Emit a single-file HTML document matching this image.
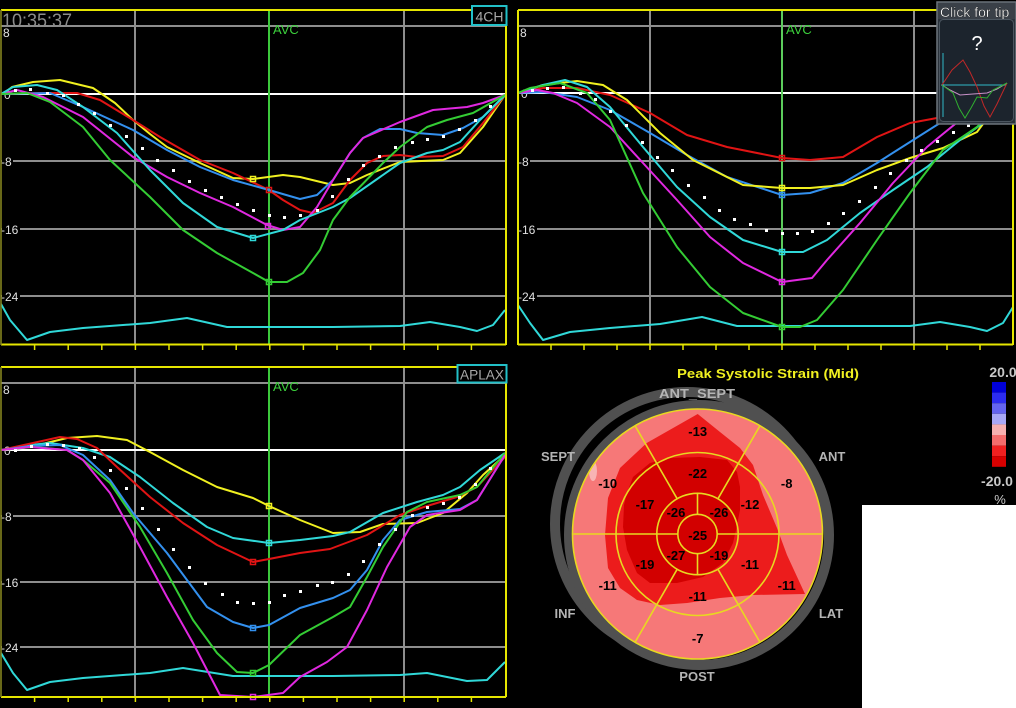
<!DOCTYPE html>
<html><head><meta charset="utf-8"><style>
html,body{margin:0;padding:0;background:#000;width:1016px;height:708px;overflow:hidden}
svg{display:block}
text{font-family:"Liberation Sans",sans-serif}
</style></head><body>
<svg width="1016" height="708" viewBox="0 0 1016 708" xmlns="http://www.w3.org/2000/svg">
<rect width="1016" height="708" fill="#000"/>
<defs>
<clipPath id="cTL"><rect x="1" y="10" width="505" height="335"/></clipPath>
<clipPath id="cTR"><rect x="518" y="10" width="495" height="335"/></clipPath>
<clipPath id="cBL"><rect x="1" y="367" width="505" height="330"/></clipPath>
<clipPath id="disc"><circle cx="697.5" cy="534" r="125"/></clipPath>
<clipPath id="hint"><rect x="938" y="3" width="77" height="16"/></clipPath>
</defs>

<!-- ============ TOP LEFT PANEL ============ -->
<g stroke="#8e8e8e" stroke-width="2" fill="none">
<line x1="1" y1="26" x2="506" y2="26"/><line x1="1" y1="161" x2="506" y2="161"/><line x1="1" y1="229" x2="506" y2="229"/><line x1="1" y1="296" x2="506" y2="296"/>
<line x1="135" y1="10" x2="135" y2="345"/><line x1="404" y1="10" x2="404" y2="345"/>
</g>
<line x1="1" y1="94" x2="506" y2="94" stroke="#fff" stroke-width="2"/>
<line x1="269" y1="10" x2="269" y2="345" stroke="#3cc83c" stroke-width="2"/>
<g fill="#000"><rect x="2" y="28" width="8" height="10"/><rect x="2" y="155" width="11" height="12"/><rect x="2" y="223" width="18" height="12"/><rect x="2" y="290" width="18" height="12"/></g>
<g font-size="12" fill="#e0e0e0">
<text x="3" y="37">8</text><text x="4" y="99">0</text><text x="1" y="166">-8</text><text x="1" y="234">-16</text><text x="1" y="301">-24</text>
</g>
<text x="273" y="34" font-size="13" fill="#3cd03c">AVC</text>
<g clip-path="url(#cTL)" fill="none" stroke-width="2" stroke-linejoin="round">
<polyline stroke="#30d8d8" points="1,304 10,320 27,340 50,332 83,328 150,323 187,318 227,327 333,327 400,326 430,322 460,327 477,331 493,325 505,310"/>
<polyline stroke="#f0f020" points="3,94 12,87 33,82 60,80 93,88 115,103 133,120 150,134 167,147 200,163 233,178 253,179 283,175 300,177 333,185 350,183 367,175 400,162 443,160 460,153 483,127 505,95"/>
<polyline stroke="#e01414" points="1,94 40,93 77,93 100,100 133,120 160,137 200,160 233,173 269,190 283,200 300,210 313,213 333,203 350,180 367,163 383,156 400,155 417,157 443,156 463,147 483,123 505,95"/>
<polyline stroke="#3390ee" points="1,94 50,93 83,107 133,130 167,150 200,167 233,180 269,190 300,199 317,195 333,180 350,153 363,138 380,129 400,129 417,133 443,135 463,128 483,117 505,95"/>
<polyline stroke="#e028e0" points="1,94 17,90 43,97 83,117 133,157 167,177 200,193 233,207 267,225 283,230 300,227 317,207 333,180 350,153 363,138 400,122 433,110 467,107 483,103 505,95"/>
<polyline stroke="#30d8d8" points="1,94 13,87 37,85 57,90 83,107 117,133 150,170 183,203 217,227 253,238 283,230 300,220 333,207 350,198 400,163 427,153 443,150 460,142 480,120 505,95"/>
<polyline stroke="#34cc34" points="1,94 27,93 50,102 83,127 110,160 150,197 183,230 217,253 253,273 269,282 287,282 303,273 320,250 333,220 350,197 383,163 400,147 427,127 447,120 473,113 505,95"/>
</g>
<path fill="#fff" d="M14 89h3v3h-3zM29 88h3v3h-3zM46 92h3v3h-3zM62 94h3v3h-3zM77 103h3v3h-3zM93 112h3v3h-3zM109 124h3v3h-3zM125 135h3v3h-3zM141 147h3v3h-3zM156 159h3v3h-3zM172 169h3v3h-3zM188 180h3v3h-3zM204 189h3v3h-3zM220 196h3v3h-3zM236 203h3v3h-3zM252 209h3v3h-3zM268 214h3v3h-3zM283 216h3v3h-3zM299 214h3v3h-3zM316 209h3v3h-3zM331 195h3v3h-3zM347 178h3v3h-3zM362 164h3v3h-3zM378 155h3v3h-3zM394 146h3v3h-3zM411 141h3v3h-3zM426 138h3v3h-3zM442 135h3v3h-3zM458 128h3v3h-3zM474 119h3v3h-3zM489 105h3v3h-3z"/>
<g fill="none" stroke-width="1.5">
<rect x="250.5" y="176.5" width="5" height="5" stroke="#f0f020"/>
<rect x="266.5" y="187.5" width="5" height="5" stroke="#e01414"/>
<rect x="265.5" y="223.5" width="5" height="5" stroke="#e028e0"/>
<rect x="250.5" y="235.5" width="5" height="5" stroke="#30d8d8"/>
<rect x="266.5" y="279.5" width="5" height="5" stroke="#34cc34"/>
</g>
<g stroke="#e6e600" stroke-width="2" fill="none">
<line x1="1" y1="10" x2="472" y2="10"/><line x1="1" y1="344.5" x2="506" y2="344.5"/><line x1="506" y1="10" x2="506" y2="345"/>
</g>
<line x1="1" y1="10" x2="1" y2="345" stroke="#8a8a20" stroke-width="1.5"/>
<g stroke="#e6e600" stroke-width="1.5">
<line x1="34.6" y1="345" x2="34.6" y2="350"/><line x1="68.2" y1="345" x2="68.2" y2="350"/><line x1="101.8" y1="345" x2="101.8" y2="350"/><line x1="135.4" y1="345" x2="135.4" y2="350"/><line x1="169" y1="345" x2="169" y2="350"/><line x1="202.6" y1="345" x2="202.6" y2="350"/><line x1="236.2" y1="345" x2="236.2" y2="350"/><line x1="269.8" y1="345" x2="269.8" y2="350"/><line x1="303.4" y1="345" x2="303.4" y2="350"/><line x1="337" y1="345" x2="337" y2="350"/><line x1="370.6" y1="345" x2="370.6" y2="350"/><line x1="404.2" y1="345" x2="404.2" y2="350"/><line x1="437.8" y1="345" x2="437.8" y2="350"/><line x1="471.4" y1="345" x2="471.4" y2="350"/>
</g>
<rect x="472" y="6" width="34.5" height="19" fill="#000" stroke="#22c0c8" stroke-width="2"/>
<text x="475.5" y="21.5" font-size="14" fill="#a8a8a8">4CH</text>
<text x="2" y="27" font-size="19" fill="#8c8c8c" textLength="70" lengthAdjust="spacingAndGlyphs">10:35:37</text>

<!-- ============ TOP RIGHT PANEL ============ -->
<g stroke="#8e8e8e" stroke-width="2" fill="none">
<line x1="518" y1="26" x2="1013" y2="26"/><line x1="518" y1="161" x2="1013" y2="161"/><line x1="518" y1="229" x2="1013" y2="229"/><line x1="518" y1="296" x2="1013" y2="296"/>
<line x1="650" y1="10" x2="650" y2="345"/><line x1="914" y1="10" x2="914" y2="345"/>
</g>
<line x1="518" y1="93" x2="1013" y2="93" stroke="#fff" stroke-width="2"/>
<line x1="782" y1="10" x2="782" y2="345" stroke="#5ccc5c" stroke-width="2"/>
<g fill="#000"><rect x="519" y="28" width="8" height="10"/><rect x="519" y="155" width="11" height="12"/><rect x="519" y="223" width="18" height="12"/><rect x="519" y="290" width="18" height="12"/></g>
<g font-size="12" fill="#e0e0e0">
<text x="520" y="37">8</text><text x="521" y="98">0</text><text x="518" y="166">-8</text><text x="518" y="234">-16</text><text x="518" y="301">-24</text>
</g>
<text x="786" y="34" font-size="13" fill="#3cd03c">AVC</text>
<g clip-path="url(#cTR)" fill="none" stroke-width="2" stroke-linejoin="round">
<polyline stroke="#30d8d8" points="518,305 530,323 543,340 570,332 610,328 660,324 702,317 737,326 843,326 910,326 940,322 970,327 987,331 1003,323 1013,307"/>
<polyline stroke="#e01414" points="518,93 543,88 577,88 610,95 650,113 687,135 727,147 782,158 810,160 843,157 877,137 910,123 937,118 970,110 1010,93"/>
<polyline stroke="#3390ee" points="518,93 543,92 577,97 610,110 650,133 687,155 727,177 782,195 810,193 843,183 877,163 910,142 940,123 975,108 1010,93"/>
<polyline stroke="#f0f020" points="518,93 543,85 577,81 603,85 627,100 660,133 693,160 743,185 782,188 810,188 843,185 877,170 910,158 943,148 977,132 1003,97 1010,93"/>
<polyline stroke="#30d8d8" points="518,93 543,85 565,80 587,87 610,107 643,147 677,187 710,217 743,240 782,252 803,252 827,240 860,213 893,190 927,167 960,140 987,120 1010,93"/>
<polyline stroke="#e028e0" points="518,93 537,90 553,93 577,103 610,127 643,163 677,200 710,237 743,263 782,282 812,278 827,260 860,223 893,183 927,147 960,120 990,103 1010,93"/>
<polyline stroke="#34cc34" points="518,93 530,88 560,83 587,93 610,120 643,193 677,247 710,287 743,313 782,327 800,327 817,320 843,290 877,240 910,193 943,150 977,127 993,110 1010,93"/>
</g>
<path fill="#fff" d="M531 89h3v3h-3zM546 87h3v3h-3zM562 86h3v3h-3zM579 92h3v3h-3zM594 98h3v3h-3zM609 110h3v3h-3zM625 124h3v3h-3zM641 141h3v3h-3zM656 156h3v3h-3zM671 169h3v3h-3zM687 184h3v3h-3zM703 196h3v3h-3zM718 209h3v3h-3zM733 218h3v3h-3zM749 223h3v3h-3zM765 229h3v3h-3zM781 232h3v3h-3zM796 232h3v3h-3zM811 230h3v3h-3zM827 222h3v3h-3zM842 212h3v3h-3zM858 200h3v3h-3zM874 186h3v3h-3zM889 172h3v3h-3zM905 159h3v3h-3zM920 149h3v3h-3zM936 140h3v3h-3zM952 131h3v3h-3zM967 124h3v3h-3z"/>
<g fill="none" stroke-width="1.5">
<rect x="779.5" y="155.5" width="5" height="5" stroke="#e01414"/>
<rect x="779.5" y="185.5" width="5" height="5" stroke="#f0f020"/>
<rect x="779.5" y="192.5" width="5" height="5" stroke="#3390ee"/>
<rect x="779.5" y="249.5" width="5" height="5" stroke="#30d8d8"/>
<rect x="779.5" y="279.5" width="5" height="5" stroke="#e028e0"/>
<rect x="779.5" y="324.5" width="5" height="5" stroke="#34cc34"/>
</g>
<g stroke="#e6e600" stroke-width="2" fill="none">
<line x1="518" y1="10" x2="940" y2="10"/><line x1="518" y1="344.5" x2="1013" y2="344.5"/><line x1="518" y1="10" x2="518" y2="345"/><line x1="1013" y1="120" x2="1013" y2="345"/>
</g>
<g stroke="#e6e600" stroke-width="1.5">
<line x1="551" y1="345" x2="551" y2="350"/><line x1="584" y1="345" x2="584" y2="350"/><line x1="617" y1="345" x2="617" y2="350"/><line x1="650" y1="345" x2="650" y2="350"/><line x1="683" y1="345" x2="683" y2="350"/><line x1="716" y1="345" x2="716" y2="350"/><line x1="749" y1="345" x2="749" y2="350"/><line x1="782" y1="345" x2="782" y2="350"/><line x1="815" y1="345" x2="815" y2="350"/><line x1="848" y1="345" x2="848" y2="350"/><line x1="881" y1="345" x2="881" y2="350"/><line x1="914" y1="345" x2="914" y2="350"/><line x1="947" y1="345" x2="947" y2="350"/><line x1="980" y1="345" x2="980" y2="350"/>
</g>
<!-- hint box -->
<rect x="937" y="2" width="79" height="122" fill="#2a323b" stroke="#6c747c" stroke-width="1.5"/>
<rect x="938" y="3" width="77" height="16" fill="#3a4048"/>
<g clip-path="url(#hint)"><text x="940" y="17" font-size="14" fill="#fff" stroke="#000" stroke-width="0.3">Click for tip</text></g>
<rect x="939.5" y="19.5" width="74" height="102" rx="4" fill="#1c242d" stroke="#4c5660"/>
<text x="977" y="50" font-size="20" fill="#fff" text-anchor="middle">?</text>
<g fill="none" stroke-width="1">
<line x1="943" y1="53" x2="943" y2="117" stroke="#30b8c8"/>
<line x1="941" y1="85" x2="1006" y2="85" stroke="#30b8c8"/>
<polyline stroke="#c02828" points="942,85 952,70 963,60 970,72 977,87 984,106 990,117 997,104 1007,83"/>
<polyline stroke="#c890c8" points="942,85 950,90 960,95 973,94 987,93 997,89 1007,83"/>
<polyline stroke="#30b030" points="942,85 953,93 959,108 965,118 971,108 977,97 987,98 993,90 1007,83"/>
</g>

<!-- ============ BOTTOM LEFT PANEL ============ -->
<g stroke="#8e8e8e" stroke-width="2" fill="none">
<line x1="1" y1="383" x2="506" y2="383"/><line x1="1" y1="516" x2="506" y2="516"/><line x1="1" y1="582" x2="506" y2="582"/><line x1="1" y1="647" x2="506" y2="647"/>
<line x1="135" y1="367" x2="135" y2="697"/><line x1="404" y1="367" x2="404" y2="697"/>
</g>
<line x1="1" y1="450" x2="506" y2="450" stroke="#fff" stroke-width="2"/>
<line x1="269" y1="367" x2="269" y2="697" stroke="#3cc83c" stroke-width="2"/>
<g fill="#000"><rect x="2" y="385" width="8" height="10"/><rect x="2" y="510" width="11" height="12"/><rect x="2" y="576" width="18" height="12"/><rect x="2" y="641" width="18" height="12"/></g>
<g font-size="12" fill="#e0e0e0">
<text x="3" y="394">8</text><text x="4" y="455">0</text><text x="1" y="521">-8</text><text x="1" y="587">-16</text><text x="1" y="652">-24</text>
</g>
<text x="273" y="391" font-size="13" fill="#3cd03c">AVC</text>
<g clip-path="url(#cBL)" fill="none" stroke-width="2" stroke-linejoin="round">
<polyline stroke="#30d8d8" points="1,653 13,673 27,690 50,682 83,678 150,673 183,668 233,676 333,676 400,675 427,673 467,681 487,680 505,662"/>
<polyline stroke="#f0f020" points="1,450 30,447 67,438 97,436 127,440 150,452 183,470 217,487 253,498 269,506 300,520 333,533 360,532 383,524 417,523 443,513 467,493 483,475 505,455"/>
<polyline stroke="#30d8d8" points="1,450 30,445 50,443 83,448 110,457 140,477 173,503 207,527 233,538 269,543 300,540 333,536 350,532 383,513 417,502 443,495 460,487 480,470 505,453"/>
<polyline stroke="#e01414" points="1,450 33,443 60,437 77,439 97,448 117,467 150,497 183,523 217,545 253,562 269,559 300,553 330,549 367,535 400,515 427,506 457,497 477,487 505,457"/>
<polyline stroke="#3390ee" points="1,450 30,446 60,445 83,455 110,480 133,513 167,553 207,607 233,622 253,628 269,625 300,608 333,598 350,590 367,570 383,540 400,520 427,512 460,509 477,500 505,455"/>
<polyline stroke="#34cc34" points="1,450 33,447 67,450 83,460 110,483 140,527 167,573 193,620 217,653 237,672 253,673 269,665 300,635 333,617 350,607 367,577 383,547 407,512 427,502 460,495 477,487 505,453"/>
<polyline stroke="#e028e0" points="1,450 30,447 67,450 83,460 110,493 140,547 167,597 193,643 220,695 253,697 283,693 300,677 327,662 347,647 367,610 387,567 410,527 427,515 460,510 477,500 505,455"/>
</g>
<path fill="#fff" d="M14 449h3v3h-3zM30 445h3v3h-3zM46 443h3v3h-3zM62 444h3v3h-3zM78 447h3v3h-3zM93 456h3v3h-3zM109 469h3v3h-3zM125 487h3v3h-3zM141 507h3v3h-3zM157 528h3v3h-3zM172 548h3v3h-3zM188 566h3v3h-3zM204 582h3v3h-3zM221 593h3v3h-3zM236 601h3v3h-3zM252 602h3v3h-3zM268 601h3v3h-3zM283 594h3v3h-3zM299 590h3v3h-3zM316 584h3v3h-3zM331 581h3v3h-3zM347 573h3v3h-3zM362 560h3v3h-3zM378 543h3v3h-3zM394 528h3v3h-3zM411 514h3v3h-3zM426 506h3v3h-3zM442 502h3v3h-3zM458 496h3v3h-3zM474 483h3v3h-3zM489 467h3v3h-3z"/>
<g fill="none" stroke-width="1.5">
<rect x="266.5" y="503.5" width="5" height="5" stroke="#f0f020"/>
<rect x="266.5" y="540.5" width="5" height="5" stroke="#30d8d8"/>
<rect x="250.5" y="559.5" width="5" height="5" stroke="#e01414"/>
<rect x="250.5" y="625.5" width="5" height="5" stroke="#3390ee"/>
<rect x="250.5" y="670.5" width="5" height="5" stroke="#34cc34"/>
<rect x="250.5" y="694.5" width="5" height="5" stroke="#e028e0"/>
</g>
<g stroke="#e6e600" stroke-width="2" fill="none">
<line x1="1" y1="367" x2="458" y2="367"/><line x1="1" y1="697" x2="506" y2="697"/><line x1="506" y1="367" x2="506" y2="697"/>
</g>
<line x1="1" y1="367" x2="1" y2="697" stroke="#8a8a20" stroke-width="1.5"/>
<g stroke="#e6e600" stroke-width="1.5">
<line x1="34.6" y1="697" x2="34.6" y2="702"/><line x1="68.2" y1="697" x2="68.2" y2="702"/><line x1="101.8" y1="697" x2="101.8" y2="702"/><line x1="135.4" y1="697" x2="135.4" y2="702"/><line x1="169" y1="697" x2="169" y2="702"/><line x1="202.6" y1="697" x2="202.6" y2="702"/><line x1="236.2" y1="697" x2="236.2" y2="702"/><line x1="269.8" y1="697" x2="269.8" y2="702"/><line x1="303.4" y1="697" x2="303.4" y2="702"/><line x1="337" y1="697" x2="337" y2="702"/><line x1="370.6" y1="697" x2="370.6" y2="702"/><line x1="404.2" y1="697" x2="404.2" y2="702"/><line x1="437.8" y1="697" x2="437.8" y2="702"/><line x1="471.4" y1="697" x2="471.4" y2="702"/>
</g>
<rect x="457.5" y="365" width="49" height="17.5" fill="#000" stroke="#22c0c8" stroke-width="2"/>
<text x="460" y="379.5" font-size="14" fill="#a8a8a8" textLength="44" lengthAdjust="spacingAndGlyphs">APLAX</text>

<!-- ============ BULL'S EYE ============ -->
<text x="768" y="378" font-size="13" font-weight="bold" fill="#f0f020" text-anchor="middle" textLength="182" lengthAdjust="spacingAndGlyphs">Peak Systolic Strain (Mid)</text>
<circle cx="687" cy="524" r="132" fill="none" stroke="#505050" stroke-width="10"/>
<circle cx="699" cy="535" r="130" fill="none" stroke="#505050" stroke-width="10"/>
<g clip-path="url(#disc)">
<circle cx="697.5" cy="534" r="126" fill="#f67878"/>
<ellipse cx="593" cy="471" rx="4" ry="10" fill="#f8b4b4"/>
<polygon fill="#ec1c1c" points="697.7,414 720,432 740,448 753,465 763,495 777,528 787,555 805,594 753,595 720,598 687,603 660,605 637,600 620,588 608,568 605,535 608,498 620,468 646.7,443"/>
<polygon fill="#d20000" points="740,487 740,510 736,530 733,543 723,563 703,577 677,583 650,583 637,573 627,550 623,527 624,505 627,493 633,477 650,463 670,458 700,457 727,460 737,472"/>
</g>
<g stroke="#e8d820" stroke-width="1.6" fill="none">
<circle cx="697.5" cy="534" r="125"/>
<circle cx="697.5" cy="534" r="81.5"/>
<circle cx="697.5" cy="534" r="40.7"/>
<circle cx="697.5" cy="534" r="19.7"/>
<line x1="572.5" y1="534" x2="677.8" y2="534"/><line x1="717.2" y1="534" x2="822.5" y2="534"/>
<line x1="697.5" y1="493.3" x2="697.5" y2="514.3"/><line x1="697.5" y1="553.7" x2="697.5" y2="574.7"/>
<line x1="717.9" y1="498.8" x2="760" y2="425.7"/>
<line x1="677.2" y1="498.8" x2="635" y2="425.7"/>
<line x1="677.2" y1="569.2" x2="635" y2="642.3"/>
<line x1="717.9" y1="569.2" x2="760" y2="642.3"/>
</g>
<g font-size="13" font-weight="bold" fill="#000" text-anchor="middle">
<text x="697.7" y="436">-13</text>
<text x="607.7" y="488">-10</text>
<text x="786.7" y="488">-8</text>
<text x="697.7" y="478">-22</text>
<text x="645" y="509">-17</text>
<text x="750" y="509">-12</text>
<text x="676" y="517">-26</text>
<text x="719" y="517">-26</text>
<text x="697.7" y="540">-25</text>
<text x="676" y="560">-27</text>
<text x="719" y="560">-19</text>
<text x="645" y="569">-19</text>
<text x="750" y="569">-11</text>
<text x="607.7" y="590">-11</text>
<text x="786.7" y="590">-11</text>
<text x="697.7" y="601">-11</text>
<text x="697.7" y="643">-7</text>
</g>
<g font-size="13" font-weight="bold" fill="#b4b4b4" text-anchor="middle">
<text x="697" y="398" textLength="76" lengthAdjust="spacingAndGlyphs">ANT_SEPT</text>
<text x="558" y="461">SEPT</text>
<text x="832" y="461">ANT</text>
<text x="565" y="618">INF</text>
<text x="831" y="618">LAT</text>
<text x="697" y="681">POST</text>
</g>

<!-- colorbar -->
<text x="1003" y="377" font-size="14" fill="#c8c8c8" text-anchor="middle" font-weight="bold">20.0</text>
<rect x="992" y="382" width="14" height="10.6" fill="#0000d8"/>
<rect x="992" y="392.6" width="14" height="10.6" fill="#2c2cf0"/>
<rect x="992" y="403.2" width="14" height="10.6" fill="#6464f0"/>
<rect x="992" y="413.8" width="14" height="10.6" fill="#a8a8f6"/>
<rect x="992" y="424.4" width="14" height="10.6" fill="#f6b0b0"/>
<rect x="992" y="435" width="14" height="10.6" fill="#f46c6c"/>
<rect x="992" y="445.6" width="14" height="10.6" fill="#f02020"/>
<rect x="992" y="456.2" width="14" height="10.6" fill="#d80000"/>
<text x="997" y="486" font-size="14" fill="#c8c8c8" text-anchor="middle" font-weight="bold">-20.0</text>
<text x="1000" y="504" font-size="13" fill="#c8c8c8" text-anchor="middle">%</text>

<rect x="862" y="505" width="154" height="203" fill="#fff"/>
</svg>
</body></html>
